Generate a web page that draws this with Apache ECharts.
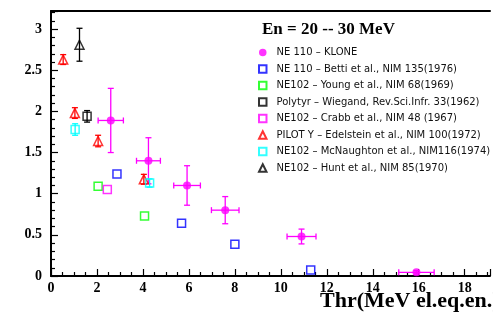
<!DOCTYPE html>
<html>
<head>
<meta charset="utf-8">
<script src="https://cdn.jsdelivr.net/npm/echarts@6/dist/echarts.min.js"></script>
<style>
  html, body { margin: 0; padding: 0; background: #fff; }
  #chart { width: 493px; height: 312px; }
</style>
</head>
<body>
<div id="chart"></div>
<script>
// NE 110 - KLONE (with x and y errors)
const kloneX = [2.6, 4.24, 5.92, 7.58, 10.9, 15.9]
const kloneY = [1.89, 1.40, 1.10, 0.80, 0.48, 0.045]
const kloneXErr = [0.55, 0.52, 0.58, 0.6, 0.63, 0.77]
const kloneYErr = [0.39, 0.28, 0.24, 0.165, 0.09, 0.02]

const bettiX = [2.87, 5.68, 8.0, 11.3]
const bettiY = [1.24, 0.64, 0.385, 0.073]

const youngX = [2.05, 4.07]
const youngY = [1.09, 0.73]

const wiegandX = [1.57]
const wiegandY = [1.94]
const wiegandYErr = [0.07]

const crabbX = [2.45]
const crabbY = [1.05]

const edelX = [0.53, 1.04, 2.05, 4.04]
const edelY = [2.63, 1.98, 1.64, 1.175]
const edelYErr = [0.06, 0.065, 0.07, 0.06]

const mcnX = [1.05, 4.29]
const mcnY = [1.78, 1.13]
const mcnYErr = [0.07, 0.05]

const huntX = [1.24]
const huntY = [2.81]
const huntYErr = [0.2]

const legendNames = [
  'NE 110 – KLONE',
  'NE 110 – Betti et al., NIM 135(1976)',
  'NE102 – Young et al., NIM 68(1969)',
  'Polytyr – Wiegand, Rev.Sci.Infr. 33(1962)',
  'NE102 – Crabb et al., NIM 48 (1967)',
  'PILOT Y – Edelstein et al., NIM 100(1972)',
  'NE102 – McNaughton et al., NIM116(1974)',
  'NE102 – Hunt et al., NIM 85(1970)'
]

const pts = (xs, ys) => xs.map((x, i) => [x, ys[i]])
const errPts = (xs, ys, xe, ye) => xs.map((x, i) => [x, ys[i], xe ? xe[i] : 0, ye ? ye[i] : 0])

function hollow(name, color, symbol, data, size) {
  return {
    name: name,
    type: 'scatter',
    symbol: symbol,
    symbolSize: size,
    data: data,
    z: 3,
    itemStyle: { color: 'rgba(255,255,255,0)', borderColor: color, borderWidth: 1.5 }
  }
}

function errorBars(name, color, data) {
  return {
    name: name,
    type: 'custom',
    data: data,
    encode: { x: 0, y: 1 },
    z: 2,
    silent: true,
    renderItem(params, api) {
      const x = api.value(0)
      const y = api.value(1)
      const xe = api.value(2)
      const ye = api.value(3)
      const cap = 3
      const style = { stroke: color, lineWidth: 1.3 }
      const children = []
      if (ye > 0) {
        const top = api.coord([x, y + ye])
        const bot = api.coord([x, y - ye])
        children.push(
          { type: 'line', shape: { x1: top[0], y1: top[1], x2: bot[0], y2: bot[1] }, style },
          { type: 'line', shape: { x1: top[0] - cap, y1: top[1], x2: top[0] + cap, y2: top[1] }, style },
          { type: 'line', shape: { x1: bot[0] - cap, y1: bot[1], x2: bot[0] + cap, y2: bot[1] }, style }
        )
      }
      if (xe > 0) {
        const l = api.coord([x - xe, y])
        const r = api.coord([x + xe, y])
        children.push(
          { type: 'line', shape: { x1: l[0], y1: l[1], x2: r[0], y2: r[1] }, style },
          { type: 'line', shape: { x1: l[0], y1: l[1] - cap, x2: l[0], y2: l[1] + cap }, style },
          { type: 'line', shape: { x1: r[0], y1: r[1] - cap, x2: r[0], y2: r[1] + cap }, style }
        )
      }
      return { type: 'group', children }
    }
  }
}

const chart = echarts.init(document.getElementById('chart'))

const axisFont = { fontFamily: 'Liberation Serif', fontWeight: 'bold', fontSize: 14, color: '#000' }

chart.setOption({
  animation: false,
  title: {
    text: 'En = 20 -- 30 MeV',
    left: 262,
    top: 21,
    padding: 0,
    textStyle: { fontFamily: 'Liberation Serif', fontWeight: 'bold', fontSize: 17, color: '#000' }
  },
  legend: {
    orient: 'vertical',
    left: 258,
    top: 47.5,
    padding: 0,
    itemWidth: 7.5,
    itemHeight: 7.5,
    itemGap: 6.5,
    data: legendNames,
    textStyle: {
      fontFamily: 'DejaVu Sans',
      fontSize: 10,
      lineHeight: 9,
      color: '#111',
      padding: [0, 0, 0, 5]
    }
  },
  grid: { left: 51, top: 11, right: 0, bottom: 36 },
  xAxis: [
    {
      type: 'value',
      min: 0,
      max: 19.1,
      interval: 2,
      axisLine: { show: true, lineStyle: { color: '#000', width: 2 } },
      axisTick: { show: true, inside: true, length: 7, lineStyle: { color: '#000', width: 1.2 } },
      minorTick: { show: true, splitNumber: 4, length: 4, lineStyle: { color: '#000', width: 1.2 } },
      splitLine: { show: false },
      axisLabel: {
        ...axisFont,
        margin: 5,
        formatter: v => (Math.abs(v % 2) < 1e-6 ? String(v) : '')
      }
    },
    {
      type: 'value',
      position: 'top',
      min: 0,
      max: 19.1,
      axisLine: { show: true, onZero: false, lineStyle: { color: '#000', width: 2 } },
      axisTick: { show: false },
      axisLabel: { show: false },
      splitLine: { show: false }
    }
  ],
  yAxis: {
    type: 'value',
    min: 0,
    max: 3.22,
    interval: 0.5,
    axisLine: { show: true, lineStyle: { color: '#000', width: 2 } },
    axisTick: { show: true, inside: true, length: 7, lineStyle: { color: '#000', width: 1.2 } },
    minorTick: { show: true, splitNumber: 5, length: 4, lineStyle: { color: '#000', width: 1.2 } },
    splitLine: { show: false },
    axisLabel: {
      ...axisFont,
      margin: 9,
      formatter: v => (Math.abs((v * 2) % 1) < 1e-6 ? String(v) : '')
    }
  },
  graphic: [
    {
      type: 'text',
      left: 320,
      top: 290,
      style: {
        text: 'Thr(MeV el.eq.en.)',
        font: 'bold 22px "Liberation Serif"',
        fill: '#000'
      }
    }
  ],
  series: [
    errorBars('kloneErr', '#ff00ff', errPts(kloneX, kloneY, kloneXErr, kloneYErr)),
    errorBars('wiegandErr', '#000', errPts(wiegandX, wiegandY, null, wiegandYErr)),
    errorBars('edelErr', '#ff0000', errPts(edelX, edelY, null, edelYErr)),
    errorBars('mcnErr', '#00ffff', errPts(mcnX, mcnY, null, mcnYErr)),
    errorBars('huntErr', '#000', errPts(huntX, huntY, null, huntYErr)),
    {
      name: legendNames[0],
      type: 'scatter',
      symbol: 'circle',
      symbolSize: 8,
      z: 3,
      data: pts(kloneX, kloneY),
      itemStyle: { color: '#ff00ff' }
    },
    hollow(legendNames[1], '#0000ff', 'rect', pts(bettiX, bettiY), 8),
    hollow(legendNames[2], '#00ff00', 'rect', pts(youngX, youngY), 8),
    hollow(legendNames[3], '#000000', 'rect', pts(wiegandX, wiegandY), 8),
    hollow(legendNames[4], '#ff00ff', 'rect', pts(crabbX, crabbY), 8),
    hollow(legendNames[5], '#ff0000', 'triangle', pts(edelX, edelY), 9),
    hollow(legendNames[6], '#00ffff', 'rect', pts(mcnX, mcnY), 8),
    hollow(legendNames[7], '#000000', 'triangle', pts(huntX, huntY), 9)
  ]
})

window.addEventListener('resize', () => {
  chart.resize()
})
</script>
</body>
</html>
